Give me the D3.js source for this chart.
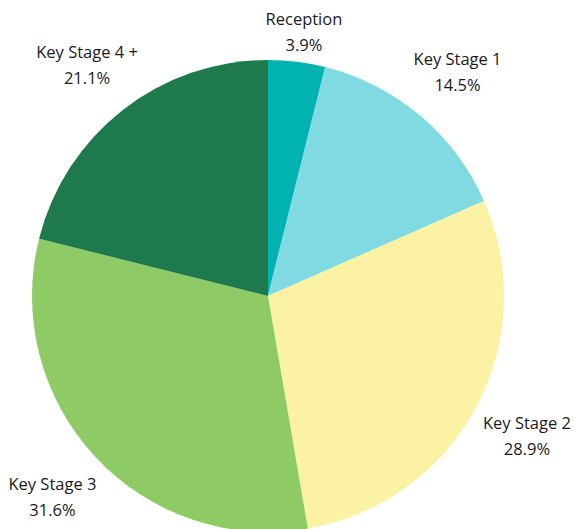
<!DOCTYPE html>
<html>
<head>
<meta charset="utf-8">
<script src="https://cdn.jsdelivr.net/npm/d3@7"></script>
<style>
  html, body { margin: 0; padding: 0; background: #fff; }
  svg { display: block; }
  .lbl { font-family: "Open Sans", sans-serif; font-size: 16.5px; fill: #1a1a1a; font-weight: 500; }
</style>
</head>
<body>
<svg id="chart"></svg>
<script>
const categories = ['Reception', 'Key Stage 1', 'Key Stage 2', 'Key Stage 3', 'Key Stage 4 +'];
const values = [3.9, 14.5, 28.9, 31.6, 21.1];
const colors = ['#00b3b1', '#80dae1', '#fbf3a3', '#8ecb64', '#1e7a4c'];

const width = 576, height = 529;
const cx = 268, cy = 296, radius = 236, labelR = 294;

const data = categories.map((c, i) => ({ label: c, value: values[i], color: colors[i] }));

const svg = d3.select('#chart')
  .attr('width', width)
  .attr('height', height);

const g = svg.append('g')
  .attr('transform', 'translate(' + cx + ',' + cy + ')');

const pie = d3.pie()
  .sort(null)
  .value(d => d.value);

const arc = d3.arc()
  .innerRadius(0)
  .outerRadius(radius);

const arcs = pie(data);

g.selectAll('path')
  .data(arcs)
  .enter().append('path')
  .attr('d', arc)
  .attr('fill', d => d.data.color);

// labels sit outside the pie, pulled back inside the frame where needed
const labels = g.selectAll('.lbl')
  .data(arcs)
  .enter().append('text')
  .attr('class', 'lbl')
  .attr('text-anchor', 'middle')
  .attr('transform', function (d) {
    const a = (d.startAngle + d.endAngle) / 2;
    const x = labelR * Math.sin(a);
    let y = -labelR * Math.cos(a);
    y = Math.max(y, 31 - cy);
    return 'translate(' + x + ',' + y + ')';
  });

labels.append('tspan')
  .attr('x', 0)
  .attr('dy', '-0.35em')
  .text(d => d.data.label);

labels.append('tspan')
  .attr('x', 0)
  .attr('dy', 26)
  .text(d => d.data.value.toFixed(1) + '%');
</script>
</body>
</html>
